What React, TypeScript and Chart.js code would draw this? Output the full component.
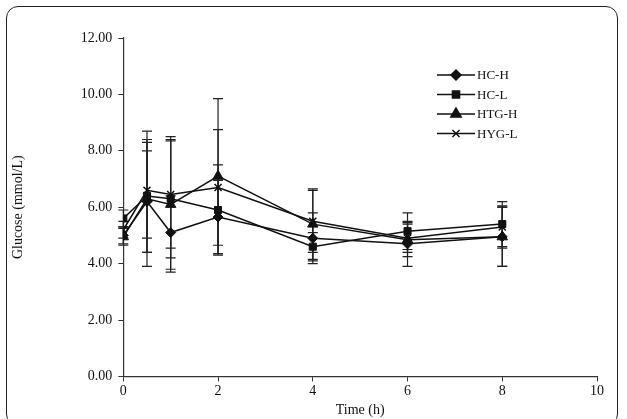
import React, { useEffect, useRef } from "react";
import { Chart, registerables } from "chart.js";
import { drawPoint } from "chart.js/helpers";
Chart.register(...registerables);

const times = [0, 0.5, 1, 2, 4, 6, 8];
const seriesNames = ["HC-H", "HC-L", "HTG-H", "HYG-L"];
const hcH = [5.0, 6.2, 5.1, 5.65, 4.9, 4.7, 4.95];
const hcL = [5.6, 6.4, 6.3, 5.9, 4.6, 5.15, 5.4];
const htgH = [4.95, 6.3, 6.1, 7.1, 5.4, 4.85, 4.95];
const hygL = [5.2, 6.6, 6.45, 6.7, 5.5, 4.9, 5.3];
const sdHcH = [0.3, 1.8, 1.3, 1.3, 0.9, 0.8, 1.05];
const sdHcL = [0.3, 2.0, 2.1, 1.6, 0.5, 0.65, 0.8];
const sdHtgH = [0.3, 2.4, 2.4, 2.75, 1.25, 0.6, 1.05];
const sdHygL = [0.3, 1.7, 1.9, 2.05, 1.1, 0.5, 0.75];
const yTicks = [0, 2, 4, 6, 8, 10, 12];
const markers = ["rectRot", "rect", "triangle", "crossRot"];
const markerSizes = [5, 5, 6, 5];

const FONT = "'Liberation Serif', 'DejaVu Serif', serif";

export default function App() {
  const ref = useRef<HTMLCanvasElement>(null);
  useEffect(() => {
    const values = [hcH, hcL, htgH, hygL];
    const sds = [sdHcH, sdHcL, sdHtgH, sdHygL];
    const errPlugin = {
      id: "err",
      beforeDatasetsDraw(chart: any) {
        const ctx = chart.ctx;
        const xs = chart.scales.x, ys = chart.scales.y;
        ctx.save();
        ctx.strokeStyle = "#222";
        ctx.lineWidth = 1.2;
        values.forEach((vals, di) => {
          vals.forEach((v, i) => {
            const px = xs.getPixelForValue(times[i]);
            const top = ys.getPixelForValue(v + sds[di][i]);
            const bot = ys.getPixelForValue(v - sds[di][i]);
            ctx.beginPath();
            ctx.moveTo(px, top); ctx.lineTo(px, bot);
            ctx.moveTo(px - 5, top); ctx.lineTo(px + 5, top);
            ctx.moveTo(px - 5, bot); ctx.lineTo(px + 5, bot);
            ctx.stroke();
          });
        });
        ctx.restore();
      },
      afterDraw(chart: any) {
        const ctx = chart.ctx;
        ctx.save();
        ctx.font = `13px ${FONT}`;
        ctx.textBaseline = "middle";
        seriesNames.forEach((n, i) => {
          const y = 75 + i * 19.5;
          const x0 = 437, x1 = 475;
          ctx.strokeStyle = "#111";
          ctx.fillStyle = "#111";
          ctx.lineWidth = 1.5;
          ctx.beginPath(); ctx.moveTo(x0, y); ctx.lineTo(x1, y); ctx.stroke();
          ctx.fillText(n, x1 + 2, y + 1);
          drawPoint(ctx, {
            pointStyle: markers[i], radius: markerSizes[i], rotation: 0, borderWidth: i === 3 ? 1.5 : 1,
          } as any, (x0 + x1) / 2, y);
        });
        ctx.restore();
      },
    };
    const chart = new Chart(ref.current!, {
      type: "line",
      data: {
        datasets: values.map((vals, i) => ({
          label: seriesNames[i],
          data: vals.map((v, j) => ({ x: times[j], y: v })),
          borderColor: "#111",
          backgroundColor: "#111",
          borderWidth: 1.5,
          pointStyle: markers[i] as any,
          pointRadius: markerSizes[i],
          pointBorderWidth: i === 3 ? 1.5 : 1,
          pointBorderColor: "#111",
          pointBackgroundColor: "#111",
          tension: 0,
        })),
      },
      options: {
        animation: false,
        responsive: false,
        layout: { padding: { left: 10, right: 30, top: 38, bottom: 0 } },
        plugins: { legend: { display: false }, tooltip: { enabled: false } },
        scales: {
          x: {
            type: "linear", min: 0, max: 10,
            ticks: { stepSize: 2, color: "#111", font: { family: FONT, size: 14 }, padding: 2 },
            grid: { drawOnChartArea: false, color: "#333", tickLength: 5, tickColor: "#333" },
            border: { color: "#333", width: 1.2 },
            title: { display: true, text: "Time (h)", color: "#111", font: { family: FONT, size: 14 }, padding: { top: 0, bottom: 0 } },
          },
          y: {
            min: 0, max: 12,
            afterBuildTicks: (s: any) => { s.ticks = yTicks.map((v) => ({ value: v })); },
            ticks: { color: "#111", font: { family: FONT, size: 14 }, callback: (v: any) => Number(v).toFixed(2), padding: 6 },
            grid: { drawOnChartArea: false, color: "#333", tickLength: 5, tickColor: "#333" },
            border: { color: "#333", width: 1.2 },
            title: { display: true, text: "Glucose (mmol/L)", color: "#111", font: { family: FONT, size: 14 }, padding: { top: 0, bottom: 48 } },
          },
        },
      },
      plugins: [errPlugin],
    });
    return () => chart.destroy();
  }, []);
  return (
    <div style={{ position: "fixed", left: 0, top: 0, width: 627, height: 419, background: "#fff" }}>
      <div style={{ position: "absolute", left: 6, top: 6, width: 612, height: 420, border: "1.5px solid #222", borderRadius: 12, boxSizing: "border-box" }} />
      <canvas ref={ref} width={627} height={419} style={{ position: "absolute", left: 0, top: 0 }} />
    </div>
  );
}
